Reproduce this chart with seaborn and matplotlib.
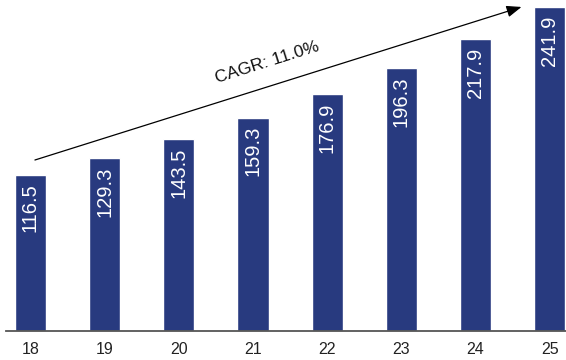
import matplotlib
matplotlib.use("Agg")
import matplotlib.pyplot as plt
import seaborn as sns
import pandas as pd

years = ["18", "19", "20", "21", "22", "23", "24", "25"]
values = [116.5, 129.3, 143.5, 159.3, 176.9, 196.3, 217.9, 241.9]
cagr_label = "CAGR: 11.0%"

sns.set_style("white")
plt.rcParams['font.family'] = ['Liberation Sans', 'DejaVu Sans']

df = pd.DataFrame({"year": years, "value": values})

fig = plt.figure(figsize=(5.66, 3.6), dpi=100)
ax = fig.add_axes([6/566, 29/360, 560/566, 329/360])
sns.barplot(data=df, x="year", y="value", color="#283A7F", width=0.42,
            saturation=1, ax=ax)

ax.set_xlim(-0.33, 7.22)
ax.set_ylim(0, 245.7)
ax.set_xlabel("")
ax.set_ylabel("")
ax.set_yticks([])
for s in ["top", "left", "right"]:
    ax.spines[s].set_visible(False)
ax.spines["bottom"].set_color("#555555")
ax.spines["bottom"].set_linewidth(1.3)
ax.tick_params(axis="x", length=0, pad=8, labelsize=11.5, colors="#222222")

for i, v in enumerate(values):
    ax.annotate(f"{v:.1f}", xy=(i, v), xytext=(0, -6), textcoords="offset points",
                ha="center", va="top", rotation=90, color="white", fontsize=14.5)

ax.annotate("", xy=(6.62, 242), xytext=(0.06, 127.7),
            arrowprops=dict(arrowstyle="-|>,head_length=0.9,head_width=0.35",
                            color="black", lw=0.9, shrinkA=0, shrinkB=0),
            annotation_clip=False)
ax.text(3.19, 200.9, cagr_label, rotation=17.5, ha="center", va="center",
        fontsize=12.5, color="#111111", rotation_mode="anchor")

fig.savefig("out.png", dpi=100)
